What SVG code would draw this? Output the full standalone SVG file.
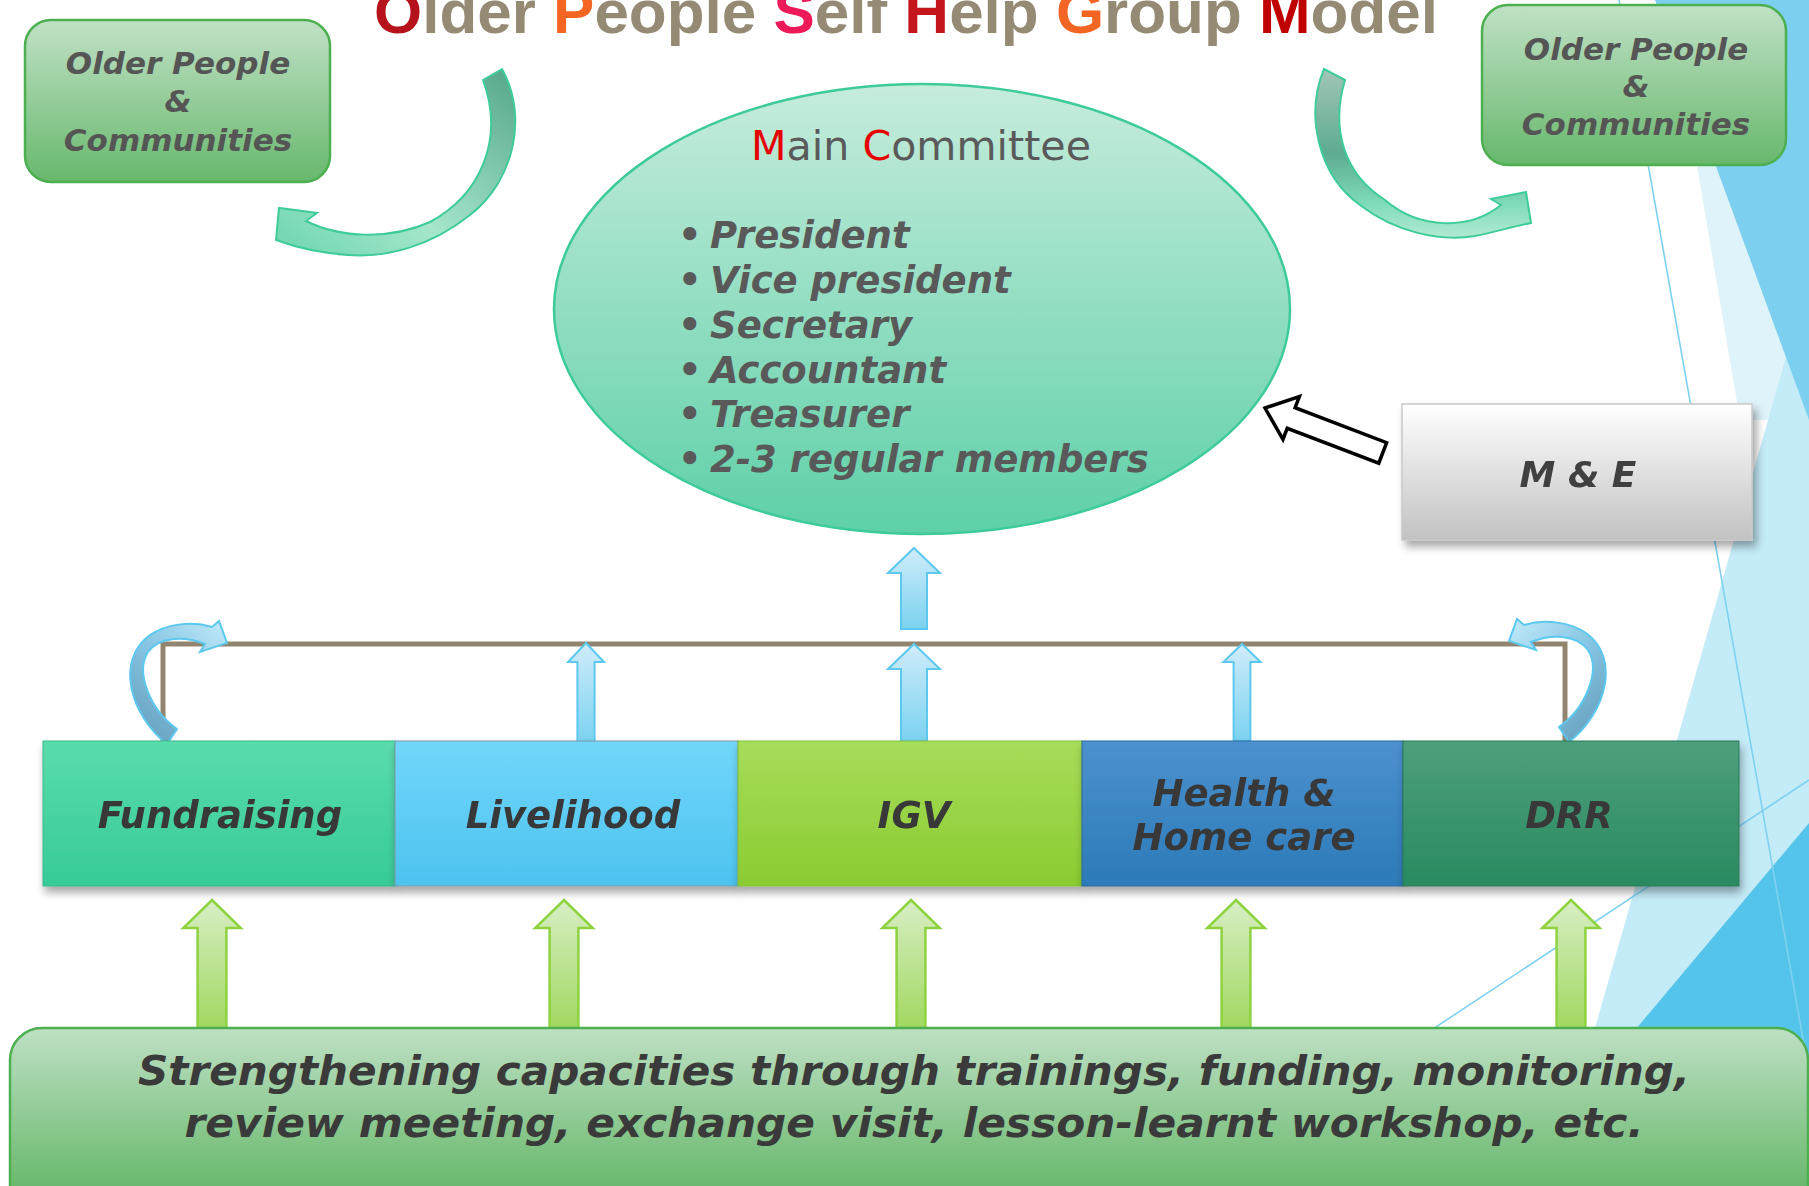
<svg xmlns="http://www.w3.org/2000/svg" width="1809" height="1186" viewBox="0 0 1809 1186">
<style>
.bi{font-family:"DejaVu Sans","Verdana",sans-serif;font-weight:bold;font-style:italic;}
.op{font-size:31px;fill:#555555;text-anchor:middle;}
.lbl{font-size:37px;fill:#383838;text-anchor:middle;}
.bul{font-size:37px;fill:#595959;}
.deco{stroke:#7FD1F1;stroke-width:1.6;fill:none;}
.barrow{fill:url(#gBlueArrow);stroke:#5CC8EE;stroke-width:2;}
.garrow{fill:url(#gGreenArrow);stroke:#8ED33F;stroke-width:2.5;}
</style>
<defs>
<linearGradient id="gBoxGreen" x1="0" y1="0" x2="0" y2="1"><stop offset="0" stop-color="#C0E1C6"/><stop offset="1" stop-color="#68B86D"/></linearGradient>
<linearGradient id="gBottom" gradientUnits="userSpaceOnUse" x1="0" y1="1028" x2="0" y2="1186"><stop offset="0" stop-color="#BEE0C4"/><stop offset="1" stop-color="#6AB96E"/></linearGradient>
<linearGradient id="gEllipse" x1="0" y1="0" x2="0" y2="1"><stop offset="0" stop-color="#C6ECDC"/><stop offset="1" stop-color="#5ED0A8"/></linearGradient>
<linearGradient id="gME" x1="0" y1="0" x2="0" y2="1"><stop offset="0" stop-color="#FFFFFF"/><stop offset="1" stop-color="#C2C2C2"/></linearGradient>
<linearGradient id="gFund" x1="0" y1="0" x2="0" y2="1"><stop offset="0" stop-color="#5ADCAB"/><stop offset="1" stop-color="#36CB98"/></linearGradient>
<linearGradient id="gLive" x1="0" y1="0" x2="0" y2="1"><stop offset="0" stop-color="#72D6FA"/><stop offset="1" stop-color="#4CC3EF"/></linearGradient>
<linearGradient id="gIGV" x1="0" y1="0" x2="0" y2="1"><stop offset="0" stop-color="#A6DD5A"/><stop offset="1" stop-color="#8BCB31"/></linearGradient>
<linearGradient id="gHealth" x1="0" y1="0" x2="0" y2="1"><stop offset="0" stop-color="#4C91CE"/><stop offset="1" stop-color="#2C7AB8"/></linearGradient>
<linearGradient id="gDRR" x1="0" y1="0" x2="0" y2="1"><stop offset="0" stop-color="#4D9F7B"/><stop offset="1" stop-color="#298A61"/></linearGradient>
<linearGradient id="gBlueArrow" x1="0" y1="0" x2="0" y2="1"><stop offset="0" stop-color="#CFECF9"/><stop offset="1" stop-color="#7BD2F1"/></linearGradient>
<linearGradient id="gGreenArrow" x1="0" y1="0" x2="0" y2="1"><stop offset="0" stop-color="#D8EEC4"/><stop offset="1" stop-color="#A0D85F"/></linearGradient>
<linearGradient id="gCurveBlue" x1="1" y1="0" x2="0.3" y2="1"><stop offset="0" stop-color="#C4EBFA"/><stop offset="0.5" stop-color="#86C6E4"/><stop offset="1" stop-color="#6AA4C2"/></linearGradient>
<linearGradient id="gCurveL" x1="1" y1="0" x2="0" y2="1"><stop offset="0" stop-color="#55A68A"/><stop offset="0.6" stop-color="#A6E6CB"/><stop offset="1" stop-color="#6CD6AE"/></linearGradient>
<linearGradient id="gCurveR" x1="0" y1="0" x2="0" y2="1"><stop offset="0" stop-color="#A2C5B6"/><stop offset="0.5" stop-color="#5DAB91"/><stop offset="0.8" stop-color="#7FDCB8"/><stop offset="1" stop-color="#B3EAD4"/></linearGradient>
<filter id="shadow" x="-5%" y="-10%" width="112%" height="130%"><feDropShadow dx="2" dy="6" stdDeviation="4" flood-color="#000" flood-opacity="0.35"/></filter>
<filter id="shadowME" x="-5%" y="-10%" width="115%" height="130%"><feDropShadow dx="4" dy="6" stdDeviation="4" flood-color="#000" flood-opacity="0.35"/></filter>
<polygon id="ga" points="0,0 28.7,28 14.4,28 14.4,130 -14.4,130 -14.4,28 -28.7,28"/>
</defs>

<g id="background">
<rect x="0" y="0" width="1809" height="1186" fill="#FFFFFF"/>
<polygon points="1669,0 1809,0 1809,420 1740,420" fill="#DFF3FB"/>
<polygon points="1809,276 1809,1186 1560,1186 1595,1028" fill="#C4EBF8"/>
<polygon points="1655,0 1809,0 1809,420" fill="#7CCFEF"/>
<polygon points="1809,823 1809,1186 1504,1186" fill="#55C4EA"/>
<line class="deco" x1="1619" y1="0" x2="1829" y2="1186"/>
<line class="deco" x1="1300" y1="1117" x2="1809" y2="780"/>
</g>

<g id="title">
<text x="374" y="33" font-family="Liberation Sans, Arial, sans-serif" font-weight="bold" font-size="62" fill="#958B75" textLength="1064" lengthAdjust="spacingAndGlyphs"><tspan fill="#B5121B">O</tspan>lder <tspan fill="#F26522">P</tspan>eople <tspan fill="#EC1A58">S</tspan>elf <tspan fill="#C4161C">H</tspan>elp <tspan fill="#F26522">G</tspan>roup <tspan fill="#C00000">M</tspan>odel</text>
</g>

<g id="connectors">
<path d="M163,741 V644 H1565 V741" fill="none" stroke="#918570" stroke-width="5"/>
<path d="M483,80 L502,69 C528,115 515,180 470,215 C430,247 385,258 348,255 C320,253 295,247 276,240 L279,208 L317,213 L306,221 C340,238 390,240 430,222 C480,195 505,140 483,80 Z" fill="url(#gCurveL)" stroke="#3ECC99" stroke-width="2"/>
<path d="M1345,80 L1324,69 C1305,115 1318,175 1360,205 C1395,232 1440,242 1475,236 C1495,232 1515,226 1531,223 L1526,192 L1491,199 L1501,205 C1470,230 1420,230 1385,200 C1345,175 1330,130 1345,80 Z" fill="url(#gCurveR)" stroke="#3ECC99" stroke-width="2"/>
<path id="curveLeft" d="M167,744 C130,715 115,660 150,635 C165,625 190,620 212,627 L219,621 L227,643 L200,652 L205,644 C185,636 160,636 148,652 C135,672 150,710 177,729 Z" fill="url(#gCurveBlue)" stroke="#5CC8EE" stroke-width="2"/>
<path d="M167,744 C130,715 115,660 150,635 C165,625 190,620 212,627 L219,621 L227,643 L200,652 L205,644 C185,636 160,636 148,652 C135,672 150,710 177,729 Z" transform="translate(1736,-2) scale(-1,1)" fill="url(#gCurveBlue)" stroke="#5CC8EE" stroke-width="2"/>
<polygon class="barrow" points="914,548 940,573 927,573 927,629 901,629 901,573 888,573"/>
<polygon class="barrow" points="914,644 940,669 927,669 927,741 901,741 901,669 888,669"/>
<polygon class="barrow" points="586,643 604,662 594.6,662 594.6,742 577.4,742 577.4,662 568,662"/>
<polygon class="barrow" points="1242,644 1260.6,662 1250.4,662 1250.4,741 1233.6,741 1233.6,662 1223.4,662"/>
<use href="#ga" class="garrow" x="212" y="900"/>
<use href="#ga" class="garrow" x="564" y="900"/>
<use href="#ga" class="garrow" x="911" y="900"/>
<use href="#ga" class="garrow" x="1236" y="900"/>
<use href="#ga" class="garrow" x="1571" y="900"/>
<polygon points="0,0 28,-23 28,-11 126,-11 126,11 28,11 28,23" transform="translate(1265,408) rotate(20.9)" fill="#FFFFFF" stroke="#000000" stroke-width="3.5" stroke-linejoin="miter"/>
</g>

<g id="node-older-left">
<rect x="25" y="20" width="305" height="162" rx="26" fill="url(#gBoxGreen)" stroke="#4CAF50" stroke-width="2.5"/>
<text class="bi op" x="178" y="74">Older People</text>
<text class="bi op" x="178" y="112">&amp;</text>
<text class="bi op" x="178" y="151">Communities</text>
</g>

<g id="node-older-right">
<rect x="1482" y="5" width="304" height="160" rx="26" fill="url(#gBoxGreen)" stroke="#4CAF50" stroke-width="2.5"/>
<text class="bi op" x="1636" y="60">Older People</text>
<text class="bi op" x="1636" y="97">&amp;</text>
<text class="bi op" x="1636" y="135">Communities</text>
</g>

<g id="node-main-committee">
<ellipse cx="922" cy="309" rx="368" ry="225" fill="url(#gEllipse)" stroke="#3DCB9A" stroke-width="2.5"/>
<text x="921" y="160" font-family="DejaVu Sans, Verdana, sans-serif" font-size="41" fill="#5A5A5A" text-anchor="middle" textLength="340" lengthAdjust="spacingAndGlyphs"><tspan fill="#E60000">M</tspan>ain <tspan fill="#E60000">C</tspan>ommittee</text>
<g class="bi bul">
<text x="678" y="248">•</text><text x="710" y="248">President</text>
<text x="678" y="293">•</text><text x="710" y="293">Vice president</text>
<text x="678" y="338">•</text><text x="710" y="338">Secretary</text>
<text x="678" y="383">•</text><text x="710" y="383">Accountant</text>
<text x="678" y="427">•</text><text x="710" y="427">Treasurer</text>
<text x="678" y="472">•</text><text x="710" y="472">2-3 regular members</text>
</g>
</g>

<g id="node-me" filter="url(#shadowME)">
<rect x="1402" y="404" width="350" height="136" fill="url(#gME)" stroke="#C8C8C8" stroke-width="1.5"/>
<text class="bi" x="1578" y="487" font-size="36" fill="#404040" text-anchor="middle">M &amp; E</text>
</g>

<g id="node-fundraising" filter="url(#shadow)">
<rect x="43" y="741" width="352" height="145" fill="url(#gFund)" stroke="#3BB88C" stroke-width="1"/>
<text class="bi lbl" x="220" y="828">Fundraising</text>
</g>
<g id="node-livelihood" filter="url(#shadow)">
<rect x="395" y="741" width="343" height="145" fill="url(#gLive)" stroke="#7A9AA8" stroke-width="1"/>
<text class="bi lbl" x="573" y="828">Livelihood</text>
</g>
<g id="node-igv" filter="url(#shadow)">
<rect x="738" y="741" width="344" height="145" fill="url(#gIGV)" stroke="#86C040" stroke-width="1"/>
<text class="bi lbl" x="914" y="828">IGV</text>
</g>
<g id="node-health" filter="url(#shadow)">
<rect x="1082" y="741" width="321" height="145" fill="url(#gHealth)" stroke="#2A6A9A" stroke-width="1"/>
<text class="bi lbl" x="1244" y="806">Health &amp;</text>
<text class="bi lbl" x="1244" y="850">Home care</text>
</g>
<g id="node-drr" filter="url(#shadow)">
<rect x="1403" y="741" width="336" height="145" fill="url(#gDRR)" stroke="#2A7A58" stroke-width="1"/>
<text class="bi lbl" x="1569" y="828">DRR</text>
</g>

<g id="node-strengthening">
<rect x="10" y="1028" width="1798" height="200" rx="32" fill="url(#gBottom)" stroke="#4CAF50" stroke-width="2.5"/>
<text class="bi" x="914" y="1085" font-size="40" fill="#3A3A3A" text-anchor="middle" textLength="1552" lengthAdjust="spacingAndGlyphs">Strengthening capacities through trainings, funding, monitoring,</text>
<text class="bi" x="914" y="1137" font-size="40" fill="#3A3A3A" text-anchor="middle" textLength="1459" lengthAdjust="spacingAndGlyphs">review meeting, exchange visit, lesson-learnt workshop, etc.</text>
</g>
</svg>
